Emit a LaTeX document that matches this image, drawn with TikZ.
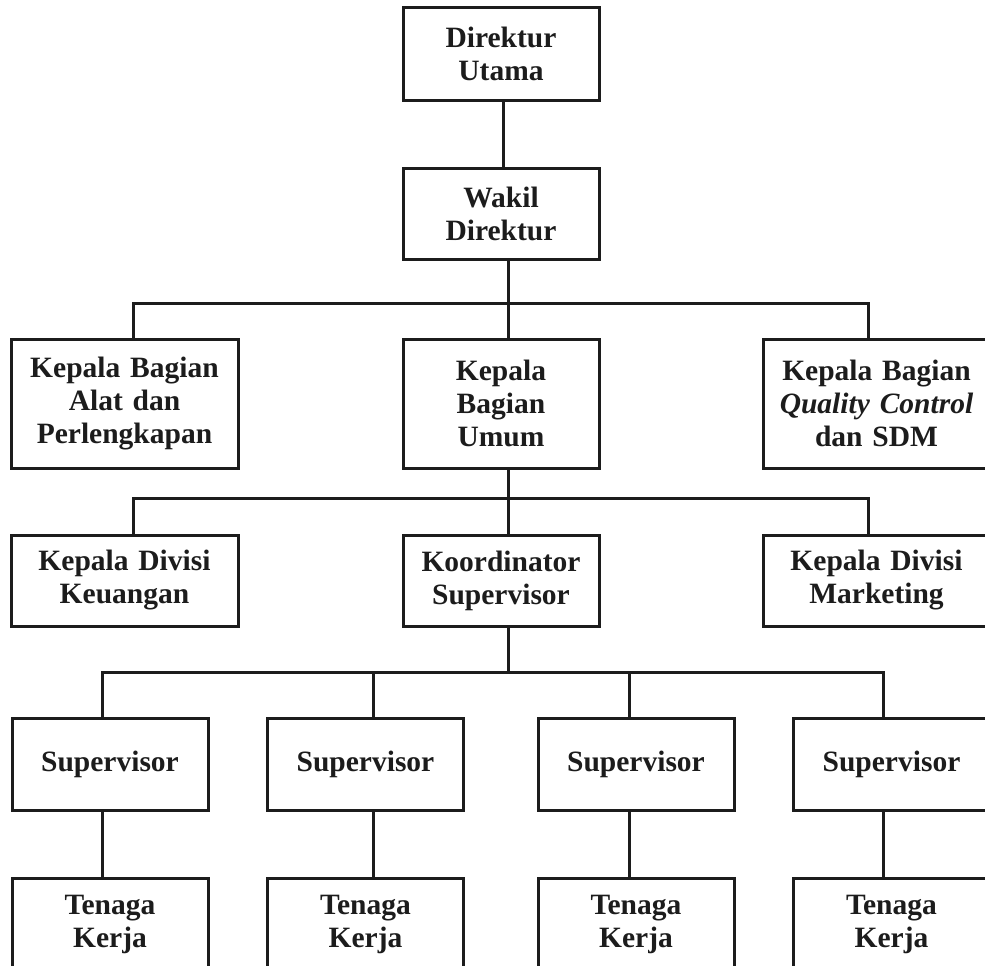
\documentclass[tikz,border=0pt]{standalone}
\usepackage{fontspec}
\setmainfont{Liberation Serif}
\definecolor{ink}{HTML}{1C1C1C}
\begin{document}
\begin{tikzpicture}[x=1pt,y=-1pt,
  box/.style={draw=ink, line width=3pt, fill=white, align=center,
    font=\fontsize{29.5}{33}\selectfont\bfseries, text=ink, inner sep=0pt,
    minimum height=92pt},
  narrow/.style={box, minimum width=196pt, text width=190pt},
  wide/.style={box, minimum width=227pt, text width=222pt},
  link/.style={draw=ink, line width=3pt, line join=miter}]
\useasboundingbox (0,0) rectangle (985,966);
\clip (0,0) rectangle (985,966);
\fill[white] (0,0) rectangle (985,966);

% top management
\node[narrow] (du) at (501,54) {Direktur\\Utama};
\node[narrow, minimum height=91pt] (wd) at (501,213.5) {Wakil\\Direktur};

% heads of department
\node[wide, minimum height=129pt] (kba) at (124.5,403.5) {Kepala Bagian\\Alat dan\\Perlengkapan};
\node[narrow, minimum height=129pt] (kbu) at (501,403.5) {Kepala\\Bagian\\Umum};
\node[wide, minimum height=129pt] (kbq) at (876.5,403.5) {Kepala Bagian\\\textit{Quality Control}\\dan SDM};

% divisions
\node[wide, minimum height=91pt] (kdk) at (124.5,580.5) {Kepala Divisi\\Keuangan};
\node[narrow, minimum height=91pt] (ks) at (501,580.5) {Koordinator\\Supervisor};
\node[wide, minimum height=91pt] (kdm) at (876.5,580.5) {Kepala Divisi\\Marketing};

% supervisors and workers
\node[narrow] (s1) at (110,764) {Supervisor};
\node[narrow] (s2) at (365.5,764) {Supervisor};
\node[narrow] (s3) at (636,764) {Supervisor};
\node[narrow] (s4) at (891.5,764) {Supervisor};
\node[narrow] (t1) at (110,924) {Tenaga\\Kerja};
\node[narrow] (t2) at (365.5,924) {Tenaga\\Kerja};
\node[narrow] (t3) at (636,924) {Tenaga\\Kerja};
\node[narrow] (t4) at (891.5,924) {Tenaga\\Kerja};

% connector routing points
\coordinate (top) at (503,0);
\coordinate (trunk) at (508,0);
\coordinate (b1l) at (133,303);
\coordinate (b1r) at (868,303);
\coordinate (b2l) at (133,498);
\coordinate (b2r) at (868,498);
\coordinate (b3l) at (102,672);
\coordinate (b3r) at (883,672);
\coordinate (c2) at (373,0);
\coordinate (c3) at (629,0);

\draw[link] (du.south -| top) -- (wd.north -| top);

\draw[link] (kba.north -| b1l) -- (b1l) -- (b1r) -- (kbq.north -| b1r);
\draw[link] (wd.south -| trunk) -- (kbu.north -| trunk);

\draw[link] (kdk.north -| b2l) -- (b2l) -- (b2r) -- (kdm.north -| b2r);
\draw[link] (kbu.south -| trunk) -- (ks.north -| trunk);

\draw[link] (s1.north -| b3l) -- (b3l) -- (b3r) -- (s4.north -| b3r);
\draw[link] (ks.south -| trunk) -- (trunk |- b3l);
\draw[link] (c2 |- b3l) -- (s2.north -| c2);
\draw[link] (c3 |- b3l) -- (s3.north -| c3);

\draw[link] (s1.south -| b3l) -- (t1.north -| b3l);
\draw[link] (s2.south -| c2) -- (t2.north -| c2);
\draw[link] (s3.south -| c3) -- (t3.north -| c3);
\draw[link] (s4.south -| b3r) -- (t4.north -| b3r);
\end{tikzpicture}
\end{document}
